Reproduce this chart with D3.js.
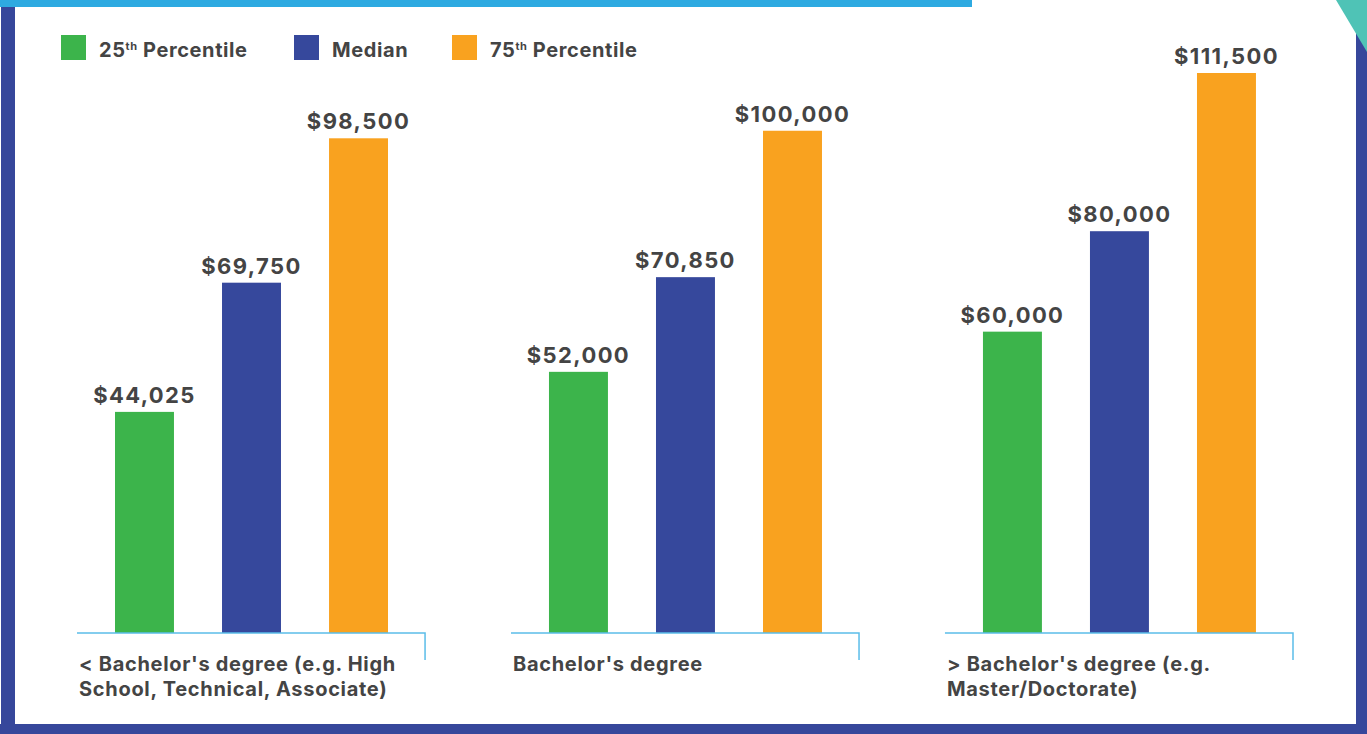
<!DOCTYPE html>
<html>
<head>
<meta charset="utf-8">
<script src="https://cdn.jsdelivr.net/npm/d3@7"></script>
<style>
  html, body { margin: 0; padding: 0; background: #fff; }
  svg { display: block; }
  text { font-family: Inter, "Liberation Sans", Arial, sans-serif; font-weight: bold; fill: #444; }
</style>
</head>
<body>
<div id="chart"></div>
<script>
const categories = [
    ["< Bachelor's degree (e.g. High", "School, Technical, Associate)"],
    ["Bachelor's degree"],
    ["> Bachelor's degree (e.g.", "Master/Doctorate)"]
];
const seriesNames = ["25th Percentile", "Median", "75th Percentile"];
const seriesColors = ["#3cb44b", "#36489c", "#f9a21f"];
const p25 = [44025, 52000, 60000];
const median = [69750, 70850, 80000];
const p75 = [98500, 100000, 111500];

const W = 1367, H = 734;
const baseY = 633;

const svg = d3.select("#chart").append("svg")
    .attr("width", W)
    .attr("height", H);

// frame
svg.append("rect").attr("x", 0).attr("y", 0).attr("width", 972).attr("height", 7).attr("fill", "#2eaae1");
svg.append("rect").attr("x", 1).attr("y", 7).attr("width", 14).attr("height", H - 7).attr("fill", "#36479b");
svg.append("rect").attr("x", 0).attr("y", 724).attr("width", W).attr("height", 10).attr("fill", "#36479b");
svg.append("rect").attr("x", 1356).attr("y", 30).attr("width", 11).attr("height", H - 30).attr("fill", "#36479b");
svg.append("path").attr("d", "M1336,0H1367V52Z").attr("fill", "#4fc3b6");

const rows = categories.map((c, i) => ({
    key: c.join(" "),
    lines: c,
    values: [p25[i], median[i], p75[i]]
}));

const x0 = d3.scaleBand()
    .domain(rows.map(d => d.key))
    .range([77, 1293])
    .paddingInner(0.198);

const x1 = d3.scaleBand()
    .domain(seriesNames)
    .range([38, 311])
    .paddingInner(0.449);

const y = d3.scaleLinear()
    .domain([0, 111500])
    .range([baseY, 73]);

const groups = svg.selectAll(".group")
    .data(rows)
    .enter()
    .append("g")
    .attr("class", "group")
    .attr("transform", d => `translate(${x0(d.key)},0)`);

// bars
groups.selectAll("rect")
    .data(d => d.values.map((v, i) => ({ name: seriesNames[i], value: v, color: seriesColors[i] })))
    .enter()
    .append("rect")
    .attr("x", d => x1(d.name))
    .attr("y", d => y(d.value))
    .attr("width", x1.bandwidth())
    .attr("height", d => baseY - y(d.value))
    .attr("fill", d => d.color);

// value labels
groups.selectAll(".val")
    .data(d => d.values.map((v, i) => ({ name: seriesNames[i], value: v })))
    .enter()
    .append("text")
    .attr("class", "val")
    .attr("x", d => x1(d.name) + x1.bandwidth() / 2)
    .attr("y", d => y(d.value) - 9)
    .attr("text-anchor", "middle")
    .style("font-size", "22px")
    .style("letter-spacing", "1.4px")
    .text(d => "$" + d3.format(",")(d.value));

// axis line with right tick
groups.append("path")
    .attr("d", `M0,${baseY}H${x0.bandwidth()}V660`)
    .attr("fill", "none")
    .attr("stroke", "#5bbde9")
    .attr("stroke-width", 1.5);

// category labels
groups.append("text")
    .attr("x", 2)
    .attr("y", 671)
    .style("font-size", "20px")
    .style("letter-spacing", "0.7px")
    .selectAll("tspan")
    .data(d => d.lines)
    .enter()
    .append("tspan")
    .attr("x", 2)
    .attr("dy", (d, i) => i === 0 ? 0 : 25)
    .text(d => d);

// legend
const legendX = [61, 294, 452];
const legend = svg.selectAll(".legend")
    .data(seriesNames)
    .enter()
    .append("g")
    .attr("class", "legend")
    .attr("transform", (d, i) => `translate(${legendX[i]},35)`);

legend.append("rect")
    .attr("width", 25)
    .attr("height", 25)
    .attr("fill", (d, i) => seriesColors[i]);

const lt = legend.append("text")
    .attr("x", 38)
    .attr("y", 22)
    .style("font-size", "20px")
    .style("letter-spacing", "0.6px");

lt.each(function(d) {
    const t = d3.select(this);
    const m = d.match(/^(\d+)(th)(.*)$/);
    if (m) {
        t.append("tspan").text(m[1]);
        t.append("tspan").attr("dy", -7).style("font-size", "11px").text(m[2]);
        t.append("tspan").attr("dy", 7).text(m[3]);
    } else {
        t.text(d);
    }
});
</script>
</body>
</html>
